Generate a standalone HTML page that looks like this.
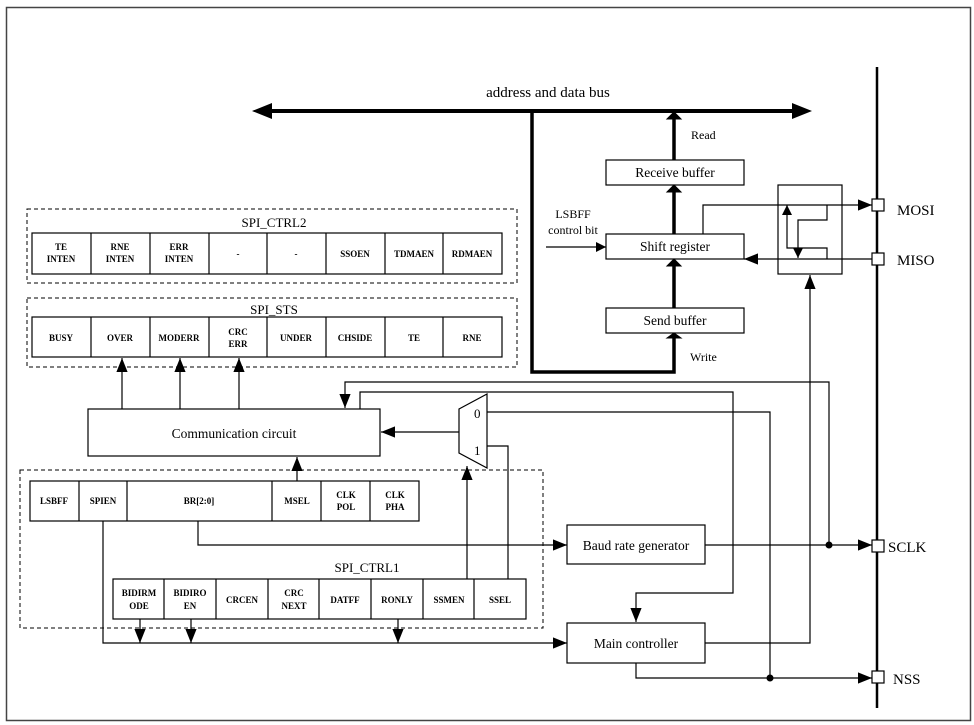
<!DOCTYPE html>
<html><head><meta charset="utf-8"><style>
html,body{margin:0;padding:0;background:#fff;}
svg{display:block;font-family:"Liberation Serif",serif;}
.c{font-size:9px;font-weight:bold;text-anchor:middle;}
.b{font-size:13.5px;text-anchor:middle;}
</style></head><body>
<svg width="974" height="725" viewBox="0 0 974 725" xmlns="http://www.w3.org/2000/svg">
<defs>
<marker id="a" viewBox="0 0 10 10" refX="10" refY="5" markerWidth="10" markerHeight="10" markerUnits="userSpaceOnUse" orient="auto"><path d="M0,0L10,5L0,10z" fill="#000"/></marker>
<marker id="A" viewBox="0 0 10 10" refX="10" refY="5" markerWidth="14" markerHeight="14" markerUnits="userSpaceOnUse" orient="auto"><path d="M0,1L10,5L0,9z" fill="#000"/></marker>
</defs>
<rect x="6.5" y="7.5" width="964" height="713" fill="none" stroke="#444" stroke-width="1.5"/>
<g fill="none" stroke="#000">
<!-- bus -->
<line x1="258" y1="111" x2="806" y2="111" stroke-width="4"/>
<path d="M252,111L272,103L272,119z M812,111L792,103L792,119z" fill="#000" stroke="none"/>
<path d="M532,111V372H674V338" stroke-width="3.5"/>
<path d="M667,338L674,333L681,338z" fill="#000"/>
<line x1="674" y1="160" x2="674" y2="118" stroke-width="3.5"/>
<path d="M667,119L674,112L681,119z" fill="#000"/>
<line x1="674" y1="234" x2="674" y2="192" stroke-width="3.5"/>
<path d="M667,192L674,185L681,192z" fill="#000"/>
<line x1="674" y1="308" x2="674" y2="266" stroke-width="3.5"/>
<path d="M667,266L674,259L681,266z" fill="#000"/>
<rect x="606" y="160" width="138" height="25" stroke-width="1.2"/>
<rect x="606" y="234" width="138" height="25" stroke-width="1.2"/>
<rect x="606" y="308" width="138" height="25" stroke-width="1.2"/>
<line x1="546" y1="247" x2="606" y2="247" marker-end="url(#a)" stroke-width="1.2"/>
<path d="M703,234V205H872" marker-end="url(#A)" stroke-width="1.2"/>
<line x1="872" y1="259" x2="744" y2="259" marker-end="url(#A)" stroke-width="1.2"/>
<rect x="778" y="185" width="64" height="89" stroke-width="1.2"/>
<path d="M827,205V220H798V258" marker-end="url(#a)" stroke-width="1.2"/>
<path d="M827,259V248H787V205" marker-end="url(#a)" stroke-width="1.2"/>
<!-- pin bus -->
<line x1="877" y1="67" x2="877" y2="708" stroke-width="2.5"/>
<rect x="872" y="199" width="12" height="12" fill="#fff" stroke-width="1.2"/>
<rect x="872" y="253" width="12" height="12" fill="#fff" stroke-width="1.2"/>
<rect x="872" y="540" width="12" height="12" fill="#fff" stroke-width="1.2"/>
<rect x="872" y="671" width="12" height="12" fill="#fff" stroke-width="1.2"/>
<!-- baud, main -->
<rect x="567" y="525" width="138" height="39" stroke-width="1.2"/>
<rect x="567" y="623" width="138" height="40" stroke-width="1.2"/>
<line x1="705" y1="545" x2="872" y2="545" marker-end="url(#A)" stroke-width="1.2"/>
<path d="M829,545V382H345V408" marker-end="url(#A)" stroke-width="1.2"/>
<path d="M360,409V392H733V593H636V622" marker-end="url(#A)" stroke-width="1.2"/>
<path d="M705,643H810V275" marker-end="url(#A)" stroke-width="1.2"/>
<path d="M487,412H770V678" stroke-width="1.2"/>
<path d="M636,663V678H872" marker-end="url(#A)" stroke-width="1.2"/>
<!-- mux -->
<path d="M459,409L487,394V468L459,453z" fill="#fff" stroke-width="1.2"/>
<line x1="459" y1="432" x2="381" y2="432" marker-end="url(#A)" stroke-width="1.2"/>
<path d="M487,446H508V580" stroke-width="1.2"/>
<line x1="467" y1="580" x2="467" y2="466" marker-end="url(#A)" stroke-width="1.2"/>
<!-- comm -->
<rect x="88" y="409" width="292" height="47" stroke-width="1.2"/>
<line x1="122" y1="409" x2="122" y2="358" marker-end="url(#A)" stroke-width="1.2"/>
<line x1="180" y1="409" x2="180" y2="358" marker-end="url(#A)" stroke-width="1.2"/>
<line x1="239" y1="409" x2="239" y2="358" marker-end="url(#A)" stroke-width="1.2"/>
<line x1="297" y1="481" x2="297" y2="457" marker-end="url(#A)" stroke-width="1.2"/>
<!-- ctrl2 / sts -->
<rect x="27" y="209" width="490" height="74" stroke-dasharray="4,3" stroke-width="1"/>
<rect x="27" y="298" width="490" height="69" stroke-dasharray="4,3" stroke-width="1"/>
<rect x="32" y="233" width="470" height="41" stroke-width="1.2"/>
<rect x="32" y="317" width="470" height="40" stroke-width="1.2"/>
<path d="M91,233V274M150,233V274M209,233V274M267,233V274M326,233V274M385,233V274M443,233V274" stroke-width="1.2"/>
<path d="M91,317V357M150,317V357M209,317V357M267,317V357M326,317V357M385,317V357M443,317V357" stroke-width="1.2"/>
<!-- ctrl1 -->
<rect x="20" y="470" width="523" height="158" stroke-dasharray="4,3" stroke-width="1"/>
<rect x="30" y="481" width="389" height="40" fill="#fff" stroke-width="1.2"/>
<path d="M79,481V521M127,481V521M272,481V521M321,481V521M370,481V521" stroke-width="1.2"/>
<rect x="113" y="579" width="413" height="40" fill="#fff" stroke-width="1.2"/>
<path d="M164,579V619M216,579V619M268,579V619M319,579V619M371,579V619M423,579V619M474,579V619" stroke-width="1.2"/>
<path d="M198,521V545H567" marker-end="url(#A)" stroke-width="1.2"/>
<path d="M103,521V643H567" marker-end="url(#A)" stroke-width="1.2"/>
<line x1="140" y1="619" x2="140" y2="643" marker-end="url(#A)" stroke-width="1.2"/>
<line x1="191" y1="619" x2="191" y2="643" marker-end="url(#A)" stroke-width="1.2"/>
<line x1="398" y1="619" x2="398" y2="643" marker-end="url(#A)" stroke-width="1.2"/>
</g>
<circle cx="829" cy="545" r="3.5"/>
<circle cx="770" cy="678" r="3.5"/>
<g>
<text x="548" y="97" style="font-size:15px" text-anchor="middle">address and data bus</text>
<text x="691" y="139" style="font-size:12px">Read</text>
<text x="690" y="361" style="font-size:12px">Write</text>
<text x="573" y="218" style="font-size:12px" text-anchor="middle">LSBFF</text>
<text x="573" y="234" style="font-size:12px" text-anchor="middle">control bit</text>
<text class="b" x="675" y="177">Receive buffer</text>
<text class="b" x="675" y="251">Shift register</text>
<text class="b" x="675" y="325">Send buffer</text>
<text class="b" x="636" y="550">Baud rate generator</text>
<text class="b" x="636" y="648">Main controller</text>
<text class="b" x="234" y="438">Communication circuit</text>
<text x="897" y="215" style="font-size:15px">MOSI</text>
<text x="897" y="265" style="font-size:15px">MISO</text>
<text x="888" y="552" style="font-size:15px">SCLK</text>
<text x="893" y="684" style="font-size:15px">NSS</text>
<text x="474" y="418" style="font-size:13px">0</text>
<text x="474" y="455" style="font-size:13px">1</text>
<text x="274" y="227" style="font-size:13px" text-anchor="middle">SPI_CTRL2</text>
<text x="274" y="314" style="font-size:13px" text-anchor="middle">SPI_STS</text>
<text x="367" y="572" style="font-size:13px" text-anchor="middle">SPI_CTRL1</text>
<g class="c">
<text x="61" y="250">TE</text><text x="61" y="262">INTEN</text>
<text x="120" y="250">RNE</text><text x="120" y="262">INTEN</text>
<text x="179" y="250">ERR</text><text x="179" y="262">INTEN</text>
<text x="238" y="257">-</text><text x="296" y="257">-</text>
<text x="355" y="257">SSOEN</text><text x="414" y="257">TDMAEN</text><text x="472" y="257">RDMAEN</text>
<text x="61" y="341">BUSY</text><text x="120" y="341">OVER</text><text x="179" y="341">MODERR</text>
<text x="238" y="335">CRC</text><text x="238" y="347">ERR</text>
<text x="296" y="341">UNDER</text><text x="355" y="341">CHSIDE</text><text x="414" y="341">TE</text><text x="472" y="341">RNE</text>
<text x="54" y="504">LSBFF</text><text x="103" y="504">SPIEN</text><text x="199" y="504">BR[2:0]</text>
<text x="297" y="504">MSEL</text>
<text x="346" y="498">CLK</text><text x="346" y="510">POL</text>
<text x="395" y="498">CLK</text><text x="395" y="510">PHA</text>
<text x="139" y="596">BIDIRM</text><text x="139" y="609">ODE</text>
<text x="190" y="596">BIDIRO</text><text x="190" y="609">EN</text>
<text x="242" y="603">CRCEN</text>
<text x="294" y="596">CRC</text><text x="294" y="609">NEXT</text>
<text x="345" y="603">DATFF</text><text x="397" y="603">RONLY</text>
<text x="449" y="603">SSMEN</text><text x="500" y="603">SSEL</text>
</g>
</g>
</svg>
</body></html>
